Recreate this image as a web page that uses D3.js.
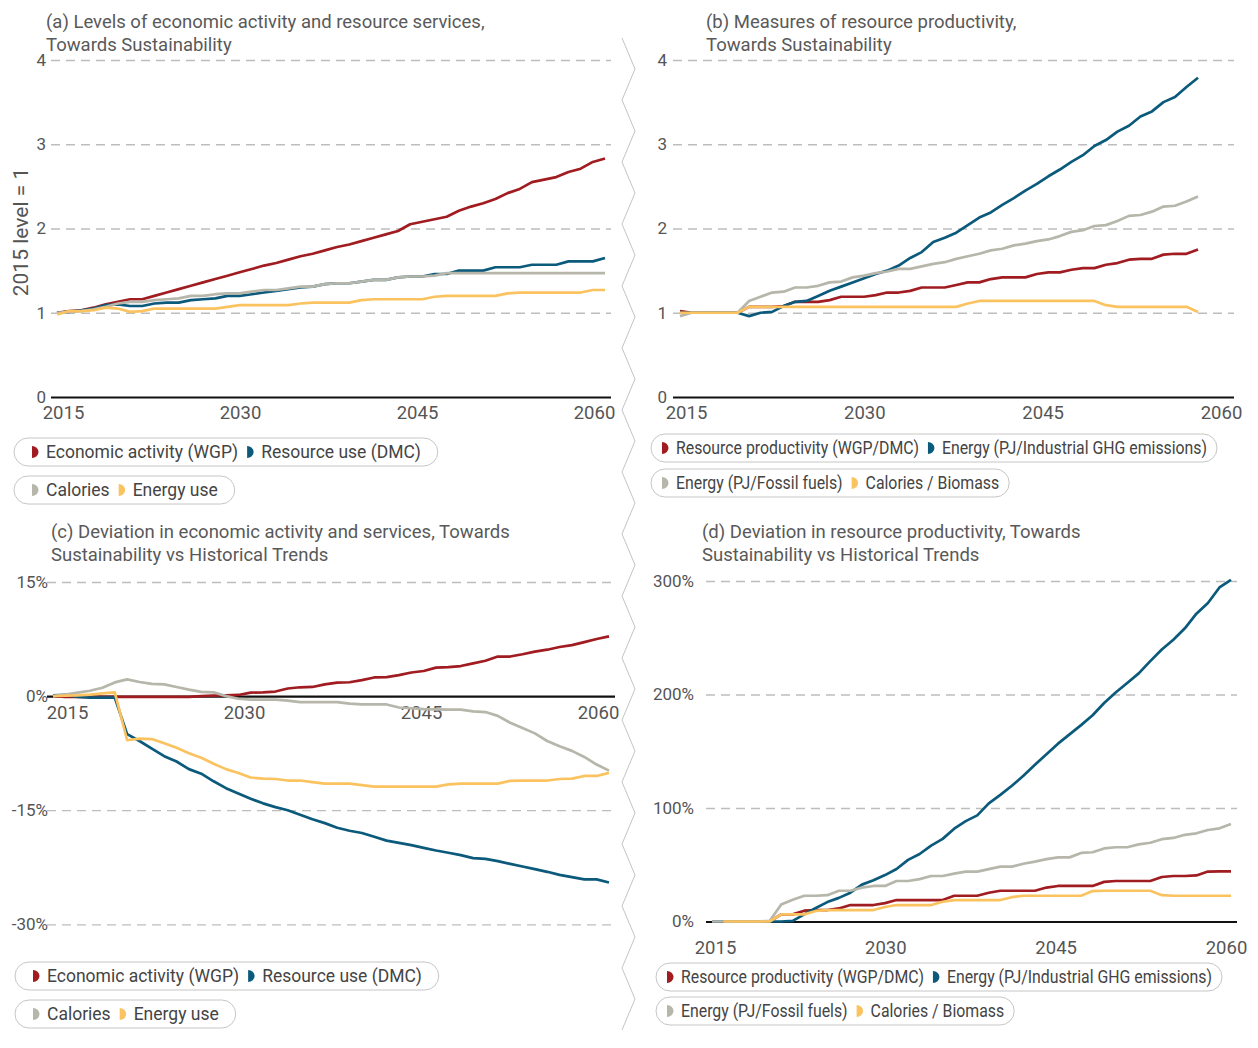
<!DOCTYPE html>
<html>
<head>
<meta charset="utf-8">
<script src="https://cdn.jsdelivr.net/npm/d3@7"></script>
<style>
  body { margin: 0; background: #fff; }
  svg { display: block; font-family: Roboto, "Noto Sans", sans-serif; }
</style>
</head>
<body>
<svg id="chart" width="1258" height="1048"></svg>
<script>
// ---- categories -------------------------------------------------------
const years = d3.range(2015, 2061);
const xTickYears = [2015, 2030, 2045, 2060];

// ---- (a) levels, 2015 = 1 ----------------------------------------------
const aEconomicActivity = [1.00,1.02,1.03,1.06,1.10,1.13,1.16,1.16,1.20,1.24, 1.28,1.32,1.36,1.40,1.44,1.48,1.52,1.56,1.59,1.63, 1.67,1.70,1.74,1.78,1.81,1.85,1.89,1.93,1.97,2.05, 2.08,2.11,2.14,2.21,2.26,2.30,2.35,2.42,2.47,2.55, 2.58,2.61,2.67,2.71,2.79,2.83];
const aResourceUse = [1.00,1.01,1.03,1.05,1.09,1.10,1.08,1.08,1.11,1.12, 1.12,1.15,1.16,1.17,1.20,1.20,1.22,1.24,1.26,1.28, 1.30,1.31,1.34,1.35,1.35,1.37,1.39,1.39,1.42,1.43, 1.43,1.46,1.46,1.50,1.50,1.50,1.54,1.54,1.54,1.57, 1.57,1.57,1.61,1.61,1.61,1.65];
const aCalories = [1.00,1.01,1.02,1.04,1.07,1.11,1.13,1.13,1.15,1.16, 1.17,1.20,1.20,1.22,1.23,1.23,1.25,1.27,1.27,1.29, 1.31,1.31,1.34,1.35,1.35,1.37,1.39,1.39,1.42,1.43, 1.43,1.44,1.47,1.47,1.47,1.47,1.47,1.47,1.47,1.47, 1.47,1.47,1.47,1.47,1.47,1.47];
const aEnergyUse = [0.98,1.02,1.02,1.03,1.06,1.05,1.01,1.02,1.05,1.05, 1.05,1.05,1.05,1.05,1.07,1.09,1.09,1.09,1.09,1.09, 1.11,1.12,1.12,1.12,1.12,1.15,1.16,1.16,1.16,1.16, 1.16,1.19,1.20,1.20,1.20,1.20,1.20,1.23,1.24,1.24, 1.24,1.24,1.24,1.24,1.27,1.27];

// ---- (b) productivity, 2015 = 1 ----------------------------------------
const bWgpPerDmc = [1.02,1.00,1.00,1.00,1.00,1.00,1.07,1.07,1.07,1.08, 1.13,1.13,1.13,1.15,1.19,1.19,1.19,1.21,1.24,1.24, 1.26,1.30,1.30,1.30,1.33,1.36,1.36,1.40,1.42,1.42, 1.42,1.46,1.48,1.48,1.51,1.53,1.53,1.57,1.59,1.63, 1.64,1.64,1.69,1.70,1.70,1.75];
const bPjPerGhg = [1.00,1.00,1.00,1.00,1.00,1.00,0.96,1.00,1.01,1.08, 1.13,1.14,1.20,1.26,1.31,1.36,1.41,1.46,1.50,1.56, 1.65,1.72,1.84,1.89,1.95,2.04,2.13,2.19,2.28,2.36, 2.45,2.53,2.62,2.70,2.79,2.87,2.98,3.05,3.15,3.22, 3.33,3.39,3.50,3.56,3.68,3.79];
const bPjPerFossil = [0.96,1.00,1.00,1.00,1.00,1.00,1.14,1.19,1.24,1.25, 1.30,1.30,1.32,1.36,1.37,1.42,1.44,1.47,1.49,1.52, 1.52,1.55,1.58,1.60,1.64,1.67,1.70,1.74,1.76,1.80, 1.82,1.85,1.87,1.91,1.96,1.98,2.03,2.04,2.09,2.15, 2.16,2.20,2.26,2.27,2.32,2.38];
const bCaloriesPerBiomass = [1.00,1.00,1.00,1.00,1.00,1.00,1.07,1.07,1.07,1.07, 1.07,1.07,1.07,1.07,1.07,1.07,1.07,1.07,1.07,1.07, 1.07,1.07,1.07,1.07,1.07,1.11,1.14,1.14,1.14,1.14, 1.14,1.14,1.14,1.14,1.14,1.14,1.14,1.09,1.07,1.07, 1.07,1.07,1.07,1.07,1.07,1.01];

// ---- (c) deviation vs Historical Trends, % ------------------------------
const cEconomicActivity = [0.0,-0.1,-0.1,-0.1,-0.1,-0.1,-0.1,-0.1,-0.1,-0.1, -0.1,-0.1,0.0,0.07,0.1,0.15,0.45,0.5,0.6,1.0, 1.16,1.2,1.55,1.78,1.82,2.1,2.45,2.5,2.75,3.1, 3.3,3.75,3.8,3.95,4.3,4.65,5.2,5.2,5.5,5.85, 6.1,6.45,6.7,7.1,7.5,7.85];
const cResourceUse = [0.1,0.15,-0.1,-0.2,-0.2,-0.2,-5.0,-5.9,-6.9,-7.9, -8.6,-9.6,-10.2,-11.2,-12.1,-12.8,-13.5,-14.1,-14.6,-15.0, -15.6,-16.2,-16.7,-17.3,-17.7,-18.0,-18.5,-19.0,-19.3,-19.6, -19.95,-20.3,-20.6,-20.9,-21.3,-21.4,-21.7,-22.05,-22.4,-22.75, -23.1,-23.5,-23.8,-24.1,-24.1,-24.5];
const cCalories = [0,0.2,0.45,0.7,1.1,1.8,2.2,1.85,1.6,1.55, 1.2,0.85,0.55,0.5,0.0,-0.35,-0.46,-0.46,-0.46,-0.6, -0.8,-0.8,-0.8,-0.8,-1.0,-1.1,-1.1,-1.1,-1.5,-1.6, -1.7,-1.75,-1.77,-1.77,-2.0,-2.1,-2.6,-3.5,-4.2,-4.9, -5.9,-6.6,-7.2,-8.0,-9.0,-9.8];
const cEnergyUse = [0,0.05,0.1,0.2,0.35,0.5,-5.8,-5.6,-5.65,-6.2, -6.8,-7.5,-8.1,-8.9,-9.6,-10.1,-10.7,-10.85,-10.9,-11.1, -11.1,-11.3,-11.5,-11.5,-11.5,-11.7,-11.9,-11.9,-11.9,-11.9, -11.9,-11.9,-11.6,-11.5,-11.5,-11.5,-11.5,-11.15,-11.1,-11.1, -11.1,-10.9,-10.85,-10.5,-10.5,-10.1];

// ---- (d) productivity deviation vs Historical Trends, % -----------------
const dWgpPerDmc = [null,0,0,0,0,0,6.3,6.3,9.5,10.1, 10.1,11.5,14.5,14.5,14.5,16.2,18.9,18.9,18.9,18.9, 18.9,22.7,22.7,22.7,25.3,27.1,27.1,27.1,27.1,29.9, 31.3,31.3,31.3,31.3,34.9,35.7,35.7,35.7,35.7,39.2, 40.1,40.1,40.6,44.0,44.2,44.2];
const dPjPerGhg = [0,0,0,0,0,0,0,0.5,6.3,11.9, 17.1,20.8,25.4,32.5,36.3,40.9,46.2,54.3,59.5,66.9, 72.8,81.8,88.4,93.5,104.1,111.6,119.6,128.4,138.1,147.4, 156.7,164.9,173,181.7,192.5,201.7,210.2,218.6,229.4,239.7, 248.3,258.3,271.2,280.6,294.3,301];
const dPjPerFossil = [0,0,0,0,0,0.5,14.9,19.2,22.7,22.7, 23.2,27.1,27.1,29.8,31.3,31.3,35.7,35.7,37.3,40.1, 40.1,42.2,43.9,43.9,46.2,48.3,48.3,50.9,52.7,55.0, 56.5,56.5,60.4,61.0,64.4,65.4,65.4,68.0,69.4,72.5, 73.6,76.4,77.7,80.6,82.1,85.9];
const dCaloriesPerBiomass = [null,0,0,0,0,0,6.3,6.3,6.3,9.3, 10.1,10.1,10.1,10.1,10.1,12.8,14.5,14.5,14.5,14.5, 17.4,18.9,18.9,18.9,18.9,18.9,21.4,22.7,22.7,22.7, 22.7,22.7,22.7,26.8,27.1,27.1,27.1,27.1,27.1,23.2, 22.7,22.7,22.7,22.7,22.7,22.7];

// ---- labels -------------------------------------------------------------
const levelTicks = [0, 1, 2, 3, 4];
const devTicksC = [15, 0, -15, -30];
const devTicksD = [0, 100, 200, 300];

const serviceNames = ["Economic activity (WGP)", "Resource use (DMC)", "Calories", "Energy use"];
const productivityNames = ["Resource productivity (WGP/DMC)", "Energy (PJ/Industrial GHG emissions)", "Energy (PJ/Fossil fuels)", "Calories / Biomass"];

const palette = ["#a01c20", "#0b5a7b", "#b7b6ab", "#fbc360"];

// ---- panel layout ---------------------------------------------------------
const panels = [
  {
    title: ["(a) Levels of economic activity and resource services,", "Towards Sustainability"],
    titleX: 46, titleY: 28,
    yDomain: [0, 4], yRange: [397, 60], yTicks: levelTicks, yFormat: d => d,
    axisX: [51, 611], lineX: [57, 605], tickX: [63, 594],
    yPad: 5, xLabelOffset: 16,
    series: [aEconomicActivity, aResourceUse, aCalories, aEnergyUse],
    names: serviceNames, legendX: 14, legendY: [438, 476], legendPad: 18, legendSqueeze: 1
  },
  {
    title: ["(b) Measures of resource productivity,", "Towards Sustainability"],
    titleX: 706, titleY: 28,
    yDomain: [0, 4], yRange: [397, 60], yTicks: levelTicks, yFormat: d => d,
    axisX: [673, 1234], lineX: [680, 1198], tickX: [686, 1221],
    yPad: 6, xLabelOffset: 16,
    series: [bWgpPerDmc, bPjPerGhg, bPjPerFossil, bCaloriesPerBiomass],
    names: productivityNames, legendX: 651, legendY: [434, 469], legendPad: 11, legendSqueeze: 0.905
  },
  {
    title: ["(c) Deviation in economic activity and services, Towards", "Sustainability vs Historical Trends"],
    titleX: 51, titleY: 538,
    yDomain: [-30, 15], yRange: [924.3, 582], yTicks: devTicksC, yFormat: d => d + "%",
    axisX: [47, 615], lineX: [53, 609], tickX: [67, 598],
    yPad: -1, xLabelOffset: 16,
    series: [cEconomicActivity, cResourceUse, cCalories, cEnergyUse],
    names: serviceNames, legendX: 15, legendY: [962, 1000], legendPad: 18, legendSqueeze: 1
  },
  {
    title: ["(d) Deviation in resource productivity, Towards", "Sustainability vs Historical Trends"],
    titleX: 702, titleY: 538,
    yDomain: [0, 300], yRange: [921.5, 581], yTicks: devTicksD, yFormat: d => d + "%",
    axisX: [706, 1237], lineX: [712, 1231], tickX: [715, 1226],
    yPad: 12, xLabelOffset: 26,
    series: [dWgpPerDmc, dPjPerGhg, dPjPerFossil, dCaloriesPerBiomass],
    names: productivityNames, legendX: 656, legendY: [963, 997], legendPad: 11, legendSqueeze: 0.905
  }
];

const svg = d3.select("#chart");

// zigzag divider between the left and right columns
const zig = d3.range(38, 1046, 31).map((y, i) => [i % 2 ? 635 : 622, y]);
svg.append("path")
  .attr("d", d3.line()(zig))
  .attr("fill", "none")
  .attr("stroke", "#c4c4c4")
  .attr("stroke-width", 1);

// shared vertical axis title for the level charts
svg.append("text")
  .attr("transform", "translate(28,232) rotate(-90)")
  .attr("text-anchor", "middle")
  .attr("font-size", 21)
  .attr("fill", "#555")
  .text("2015 level = 1");

panels.forEach(p => {
  const g = svg.append("g");
  const x = d3.scaleLinear().domain([2015, 2060]).range(p.lineX);
  const xLabels = d3.scaleLinear().domain([2015, 2060]).range(p.tickX);
  const y = d3.scaleLinear().domain(p.yDomain).range(p.yRange);
  const width = p.axisX[1] - p.axisX[0];

  // title
  const t = g.append("text")
    .attr("x", p.titleX).attr("y", p.titleY)
    .attr("font-size", 18.5).attr("fill", "#595959");
  p.title.forEach((line, i) => {
    t.append("tspan").attr("x", p.titleX).attr("dy", i ? 23 : 0).text(line);
  });

  // horizontal grid + value labels
  const yAxis = g.append("g")
    .attr("transform", `translate(${p.axisX[0]},0)`)
    .call(d3.axisLeft(y).tickValues(p.yTicks).tickSize(-width)
      .tickPadding(p.yPad).tickFormat(p.yFormat));
  yAxis.select(".domain").remove();
  yAxis.selectAll(".tick line")
    .attr("stroke", d => d === 0 ? "#111" : "#bdbdbd")
    .attr("stroke-width", d => d === 0 ? 2.2 : 1.3)
    .attr("stroke-dasharray", d => d === 0 ? null : "9,6");
  yAxis.selectAll(".tick text")
    .attr("font-size", 17).attr("fill", "#555")
    .attr("font-family", "Roboto, 'Noto Sans', sans-serif");

  // year labels under the zero line
  const xAxis = g.append("g")
    .attr("transform", `translate(0,${y(0)})`)
    .call(d3.axisBottom(xLabels).tickValues(xTickYears).tickSize(0)
      .tickPadding(0).tickFormat(d3.format("d")));
  xAxis.select(".domain").remove();
  xAxis.selectAll(".tick text")
    .attr("y", p.xLabelOffset).attr("dy", "0.35em")
    .attr("font-size", 18.5).attr("fill", "#555")
    .attr("font-family", "Roboto, 'Noto Sans', sans-serif");

  // series lines
  const line = d3.line()
    .defined(d => d[1] !== null)
    .x(d => x(d[0]))
    .y(d => y(d[1]));
  p.series.forEach((vals, i) => {
    g.append("path")
      .datum(years.map((yr, k) => [yr, vals[k]]))
      .attr("d", line)
      .attr("fill", "none")
      .attr("stroke", palette[i])
      .attr("stroke-width", 2.7)
      .attr("stroke-linejoin", "round");
  });

  // legend pills, two entries per row
  [[0, 1], [2, 3]].forEach((pair, r) => {
    const row = g.append("g").attr("transform", `translate(${p.legendX},${p.legendY[r]})`);
    const pill = row.append("rect")
      .attr("y", 0).attr("height", 28).attr("rx", 14)
      .attr("fill", "#fff").attr("stroke", "#c6c6c6").attr("stroke-width", 1);
    let cx = p.legendPad;
    pair.forEach((si, j) => {
      if (j) cx += 9;
      row.append("path")
        .attr("d", `M${cx},8 A6.5,6 0 0 1 ${cx},20 Z`)
        .attr("fill", palette[si]);
      const txt = row.append("text")
        .attr("x", cx + 14).attr("y", 14).attr("dy", "0.35em")
        .attr("font-size", 17.5).attr("fill", "#444")
        .text(p.names[si]);
      let w = txt.node().getComputedTextLength();
      if (p.legendSqueeze !== 1) {
        w *= p.legendSqueeze;
        txt.attr("textLength", w).attr("lengthAdjust", "spacingAndGlyphs");
      }
      cx += 14 + w;
    });
    pill.attr("width", cx + p.legendPad - 1);
  });
});
</script>
</body>
</html>
